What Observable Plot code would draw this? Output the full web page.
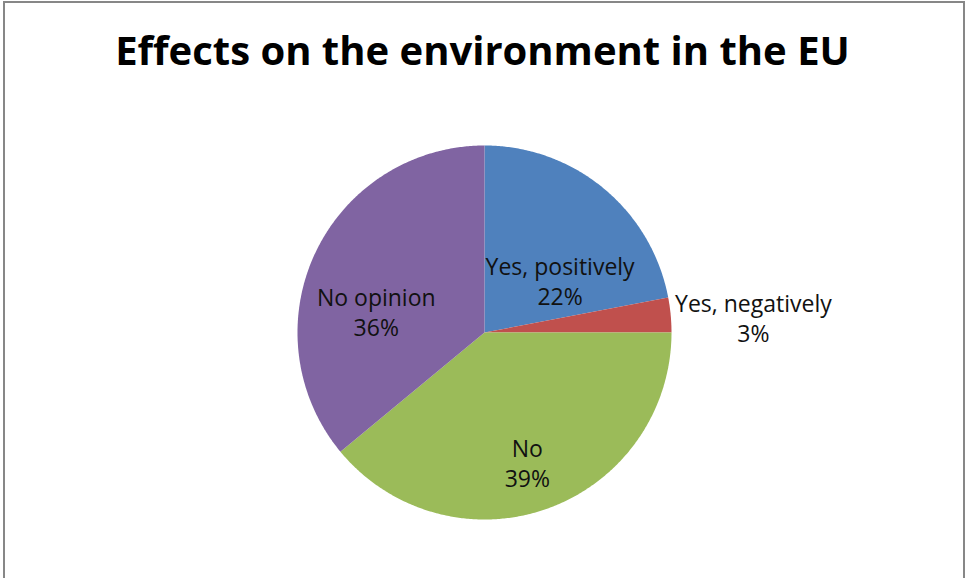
<!DOCTYPE html>
<html><head><meta charset="utf-8">
<script src="https://cdn.jsdelivr.net/npm/d3@7"></script>
<script src="https://cdn.jsdelivr.net/npm/@observablehq/plot@0.6"></script>
<style>
body{margin:0;background:#fff;}
#wrap{position:relative;width:965px;height:578px;overflow:hidden;background:#fff;}
#frame{position:absolute;left:3px;top:1px;width:962px;height:640px;border:2px solid #878787;box-sizing:border-box;}
#title{position:absolute;left:0;width:965px;top:30px;text-align:center;font-family:"Open Sans",sans-serif;font-weight:bold;font-size:40px;line-height:40px;color:#000;white-space:nowrap;}
#chart{position:absolute;left:0;top:0;}
</style></head><body>
<div id="wrap"><div id="frame"></div><div id="chart"></div><div id="title">Effects on the environment in the EU</div></div>
<script>
const categories = ["Yes, positively", "Yes, negatively", "No", "No opinion"];
const shares = [22, 3, 39, 36];
const colors = ["#4F81BD", "#C0504D", "#9BBB59", "#8064A2"];
// label placement: distance from centre (fraction of radius) and angle nudge (degrees) from mid-angle
const labelRadius = [0.49, 1.44, 0.73, 0.59];
const labelNudge = [16, 2.2, 1.5, -14];

const total = d3.sum(shares);
let acc = 0;
const slices = categories.map((c, i) => {
  const a0 = acc / total * 2 * Math.PI;
  acc += shares[i];
  const a1 = acc / total * 2 * Math.PI;
  return {c, v: shares[i], a0, a1, i};
});
const pts = [];
slices.forEach(s => {
  pts.push({c: s.c, x: 0, y: 0});
  const n = Math.max(2, Math.ceil((s.a1 - s.a0) / (Math.PI / 360)));
  for (let k = 0; k <= n; k++) {
    const a = s.a0 + (s.a1 - s.a0) * k / n;
    pts.push({c: s.c, x: Math.sin(a), y: Math.cos(a)});
  }
  pts.push({c: s.c, x: 0, y: 0});
});
const labels = slices.map(s => {
  const a = (s.a0 + s.a1) / 2 + labelNudge[s.i] * Math.PI / 180;
  const r = labelRadius[s.i];
  return {x: r * Math.sin(a), y: r * Math.cos(a), text: `${s.c}\n${Math.round(s.v / total * 100)}%`};
});

const chart = Plot.plot({
  width: 965, height: 578,
  marginLeft: 297, marginRight: 294, marginTop: 145, marginBottom: 59,
  x: {domain: [-1, 1], axis: null},
  y: {domain: [-1, 1], axis: null},
  color: {domain: categories, range: colors},
  style: {background: "transparent", overflow: "visible"},
  marks: [
    Plot.line(pts, {x: "x", y: "y", z: "c", fill: "c", stroke: "none"}),
    Plot.text(labels, {x: "x", y: "y", text: "text", fontSize: 23, lineHeight: 1.3, fill: "#111", fontFamily: "Open Sans, sans-serif"})
  ]
});
document.getElementById("chart").appendChild(chart);
</script>
</body></html>
